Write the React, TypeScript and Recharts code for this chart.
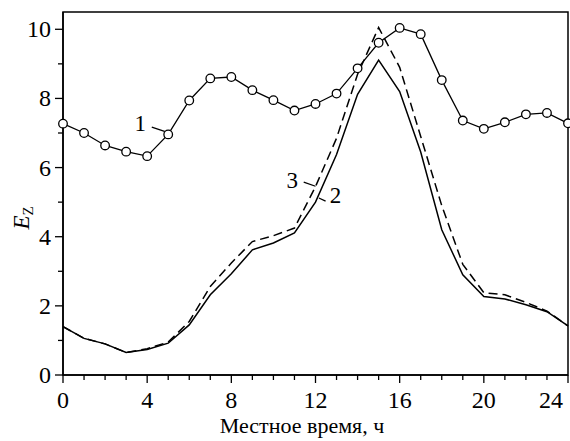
import React from 'react';
import {
  LineChart, Line, XAxis, YAxis, ReferenceArea, ReferenceLine, ReferenceDot,
} from 'recharts';

// local time, hours
const hours = [0, 1, 2, 3, 4, 5, 6, 7, 8, 9, 10, 11, 12, 13, 14, 15, 16, 17, 18, 19, 20, 21, 22, 23, 24];

// curve 1 (circles)
const curve1 = [7.27, 7.0, 6.64, 6.46, 6.33, 6.96, 7.94, 8.58, 8.62, 8.24, 7.95, 7.65, 7.84,
  8.14, 8.87, 9.61, 10.04, 9.86, 8.53, 7.36, 7.12, 7.31, 7.54, 7.58, 7.28];
// curve 2 (solid)
const curve2 = [1.4, 1.06, 0.9, 0.65, 0.74, 0.92, 1.45, 2.32, 2.93, 3.62, 3.82, 4.11, 5.0,
  6.38, 8.12, 9.11, 8.2, 6.45, 4.2, 2.9, 2.27, 2.2, 2.03, 1.83, 1.42];
// curve 3 (dashed)
const curve3 = [1.4, 1.06, 0.9, 0.65, 0.76, 0.95, 1.55, 2.56, 3.24, 3.86, 4.03, 4.25, 5.45,
  6.85, 8.7, 10.05, 8.9, 6.9, 4.9, 3.2, 2.38, 2.32, 2.1, 1.85, 1.42];

const xTicks = hours;
const yTicks = [0, 1, 2, 3, 4, 5, 6, 7, 8, 9, 10];

const data = hours.map((h, i) => ({ h, c1: curve1[i], c2: curve2[i], c3: curve3[i] }));

const FONT = '"Liberation Serif", "Times New Roman", serif';

const XTick = (props: any) => {
  const { x, y, payload } = props;
  const major = payload.value % 4 === 0;
  const last = payload.value === 24;
  return (
    <g>
      <line x1={x} y1={y} x2={x} y2={y + (major ? 8 : 5)} stroke="#000" strokeWidth={1.3} />
      {major && (
        <text x={last ? x - 5 : x} y={y + 33} textAnchor={last ? 'end' : 'middle'}
          fontSize={24} fontFamily={FONT} fill="#000">
          {payload.value}
        </text>
      )}
    </g>
  );
};

const YTick = (props: any) => {
  const { x, y, payload } = props;
  const major = payload.value % 2 === 0;
  return (
    <g>
      <line x1={x} y1={y} x2={x - (major ? 8 : 5)} y2={y} stroke="#000" strokeWidth={1.3} />
      {major && (
        <text x={x - 12} y={y + 8} textAnchor="end" fontSize={24} fontFamily={FONT} fill="#000">
          {payload.value}
        </text>
      )}
    </g>
  );
};

const CircleDot = (props: any) => {
  const { cx, cy } = props;
  return <circle cx={cx} cy={cy} r={4.3} fill="#fff" stroke="#000" strokeWidth={1.3} />;
};

const NoteLabel = (text: string) => (props: any) => {
  const { viewBox } = props;
  return (
    <text x={viewBox.x + viewBox.width / 2} y={viewBox.y + viewBox.height / 2 + 8}
      textAnchor="middle" fontSize={23} fontFamily={FONT} fill="#000">{text}</text>
  );
};

export default function App() {
  return (
    <div style={{ position: 'absolute', left: 0, top: 0, background: '#fff' }}>
      <LineChart width={570} height={441} data={data}
        margin={{ top: 12, right: 2, bottom: 0, left: 0 }}>
        <XAxis dataKey="h" type="number" domain={[0, 24]} ticks={xTicks} interval={0}
          tick={<XTick />} tickLine={false} tickSize={0} tickMargin={0}
          axisLine={{ stroke: '#000', strokeWidth: 1.5 }} height={66}
          label={{
            content: () => (
              <text x={302} y={433} textAnchor="middle" fontSize={22} fontFamily={FONT} fill="#000">
                Местное время, ч
              </text>
            ),
          }} />
        <YAxis type="number" domain={[0, 10.5]} ticks={yTicks} interval={0}
          tick={<YTick />} tickLine={false} tickSize={0} tickMargin={0}
          axisLine={{ stroke: '#000', strokeWidth: 1.5 }} width={63}
          label={{
            content: () => (
              <text transform="translate(29,218) rotate(-90)" fontSize={23} fontFamily={FONT}
                fill="#000" textAnchor="middle">
                <tspan fontStyle="italic">E</tspan>
                <tspan fontSize={15} dy={4}>Z</tspan>
              </text>
            ),
          }} />
        <ReferenceArea x1={0} x2={24} y1={0} y2={10.5} fill="none" stroke="#000"
          strokeWidth={1.5} fillOpacity={0} ifOverflow="visible" />
        <Line dataKey="c3" stroke="#000" strokeWidth={1.5} strokeDasharray="9 5" dot={false}
          type="linear" isAnimationActive={false} />
        <Line dataKey="c2" stroke="#000" strokeWidth={1.5} dot={false}
          type="linear" isAnimationActive={false} />
        <Line dataKey="c1" stroke="#000" strokeWidth={1.3} dot={<CircleDot />}
          type="linear" isAnimationActive={false} />
        <ReferenceLine segment={[{ x: 4.22, y: 7.17 }, { x: 4.86, y: 7.04 }]} stroke="#000" strokeWidth={1.3} />
        <ReferenceLine segment={[{ x: 11.44, y: 5.58 }, { x: 12.0, y: 5.46 }]} stroke="#000" strokeWidth={1.3} />
        <ReferenceLine segment={[{ x: 12.16, y: 5.12 }, { x: 12.48, y: 5.03 }]} stroke="#000" strokeWidth={1.3} />
        <ReferenceDot x={3.67} y={7.3} r={0} fill="none" stroke="none" label={NoteLabel('1')} />
        <ReferenceDot x={10.89} y={5.65} r={0} fill="none" stroke="none" label={NoteLabel('3')} />
        <ReferenceDot x={12.95} y={5.22} r={0} fill="none" stroke="none" label={NoteLabel('2')} />
      </LineChart>
    </div>
  );
}
